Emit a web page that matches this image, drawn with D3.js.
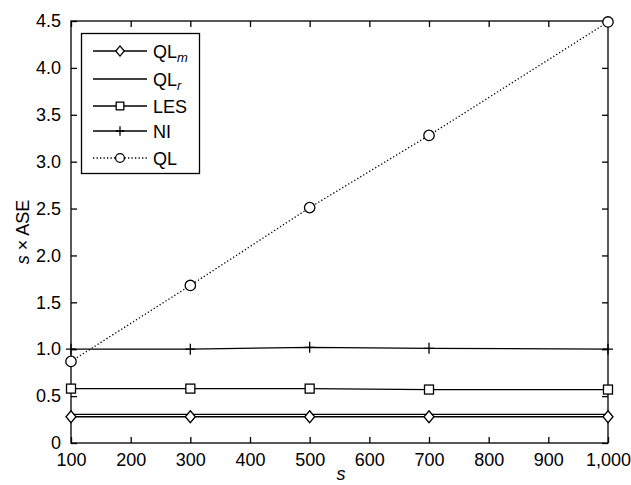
<!DOCTYPE html>
<html><head><meta charset="utf-8">
<script src="https://cdn.jsdelivr.net/npm/d3@7"></script>
<style>
body{margin:0;background:#fff;}
text{font-family:"Liberation Sans",Arial,Helvetica,sans-serif;}
</style></head>
<body><svg id="c" width="631" height="485"></svg>
<script>
const sValues = [100, 300, 500, 700, 1000];
const QLm = [0.28, 0.28, 0.28, 0.28, 0.28];
const QLr = [0.305, 0.305, 0.305, 0.305, 0.305];
const LES = [0.58, 0.58, 0.58, 0.57, 0.57];
const NI = [1.0, 1.0, 1.02, 1.01, 1.0];
const QL = [0.87, 1.68, 2.51, 3.28, 4.49];
const xTicks = [100,200,300,400,500,600,700,800,900,1000];
const yTicks = [0,0.5,1.0,1.5,2.0,2.5,3.0,3.5,4.0,4.5];
const seriesNames = ["QLm","QLr","LES","NI","QL"];

const svg = d3.select("#c");
const L=71, R=608, T=21, B=443;
const x = d3.scaleLinear().domain([100,1000]).range([L,R]);
const y = d3.scaleLinear().domain([0,4.5]).range([B,T]);
const fmtX = d3.format(",");
const fmtY = v => v===0 ? "0" : d3.format(".1f")(v);
const FS = 18;

const g = svg.append("g");
g.append("rect").attr("x",L).attr("y",T).attr("width",R-L).attr("height",B-T)
  .attr("fill","none").attr("stroke","#000").attr("stroke-width",1.3);

const xb = g.append("g").attr("transform",`translate(0,${B})`)
  .call(d3.axisBottom(x).tickValues(xTicks).tickFormat(fmtX).tickSizeInner(-6).tickSizeOuter(0).tickPadding(10));
const xt = g.append("g").attr("transform",`translate(0,${T})`)
  .call(d3.axisTop(x).tickValues(xTicks).tickFormat("").tickSizeInner(-6).tickSizeOuter(0));
const yl = g.append("g").attr("transform",`translate(${L},0)`)
  .call(d3.axisLeft(y).tickValues(yTicks).tickFormat(fmtY).tickSizeInner(-6).tickSizeOuter(0).tickPadding(10));
const yr = g.append("g").attr("transform",`translate(${R},0)`)
  .call(d3.axisRight(y).tickValues(yTicks).tickFormat("").tickSizeInner(-6).tickSizeOuter(0));
[xb,xt,yl,yr].forEach(a=>{
  a.select(".domain").remove();
  a.selectAll("line").attr("stroke","#000").attr("stroke-width",1.3);
  a.selectAll("text").attr("font-size",FS).attr("fill","#000").attr("font-family","Liberation Sans, Arial, sans-serif");
});

const line = d3.line().x((d,i)=>x(sValues[i])).y(d=>y(d));

function marker(sel, type, cx, cy, k){
  k = k || 1;
  if(type==="diamond"){
    sel.append("path").attr("d",`M${cx},${cy-6*k}L${cx+5*k},${cy}L${cx},${cy+6*k}L${cx-5*k},${cy}Z`)
      .attr("fill","#fff").attr("stroke","#000").attr("stroke-width",1.3);
  } else if(type==="square"){
    sel.append("rect").attr("x",cx-4.5*k).attr("y",cy-4.5*k).attr("width",9*k).attr("height",9*k)
      .attr("fill","#fff").attr("stroke","#000").attr("stroke-width",1.3);
  } else if(type==="plus"){
    sel.append("path").attr("d",`M${cx-5*k},${cy}H${cx+5*k}M${cx},${cy-5.5*k}V${cy+5.5*k}`)
      .attr("stroke","#000").attr("stroke-width",1.3).attr("fill","none");
  } else if(type==="circle"){
    sel.append("circle").attr("cx",cx).attr("cy",cy).attr("r",5.2*k)
      .attr("fill","#fff").attr("stroke","#000").attr("stroke-width",1.3);
  }
}

const series = [
  {name:"QLm", data:QLm, marker:"diamond", dash:null},
  {name:"QLr", data:QLr, marker:null, dash:null},
  {name:"LES", data:LES, marker:"square", dash:null},
  {name:"NI", data:NI, marker:"plus", dash:null},
  {name:"QL", data:QL, marker:"circle", dash:"1.3,2.2"}
];

const plot = g.append("g");
series.forEach(s=>{
  plot.append("path").attr("d",line(s.data)).attr("fill","none").attr("stroke","#000")
    .attr("stroke-width",1.3).attr("stroke-dasharray",s.dash);
});
series.forEach(s=>{
  if(!s.marker) return;
  s.data.forEach((v,i)=>marker(plot, s.marker, x(sValues[i]), y(v)));
});

// legend
const lg = g.append("g");
lg.append("rect").attr("x",81.5).attr("y",33.5).attr("width",118).attr("height",140)
  .attr("fill","#fff").attr("stroke","#000").attr("stroke-width",1.3);
const ly = [51,79,106,131,158];
const labels = [["QL","m"],["QL","r"],["LES",null],["NI",null],["QL",null]];
series.forEach((s,i)=>{
  lg.append("line").attr("x1",93).attr("x2",147).attr("y1",ly[i]).attr("y2",ly[i])
    .attr("stroke","#000").attr("stroke-width",1.3).attr("stroke-dasharray",s.dash);
  if(s.marker) marker(lg, s.marker, 120, ly[i], 0.85);
  const t = lg.append("text").attr("x",153).attr("y",ly[i]+6.5).attr("font-size",FS).text(labels[i][0]);
  if(labels[i][1]) t.append("tspan").attr("font-style","italic").attr("font-size",13).attr("dy",4).text(labels[i][1]);
});

// axis titles
svg.append("text").attr("x",341).attr("y",480).attr("text-anchor","middle")
  .attr("font-size",FS).attr("font-style","italic").text("s");
const yt = svg.append("text").attr("transform","translate(29,232) rotate(-90)")
  .attr("text-anchor","middle").attr("font-size",FS);
yt.append("tspan").attr("font-style","italic").text("s");
yt.append("tspan").text(" × ASE");
</script></body></html>
